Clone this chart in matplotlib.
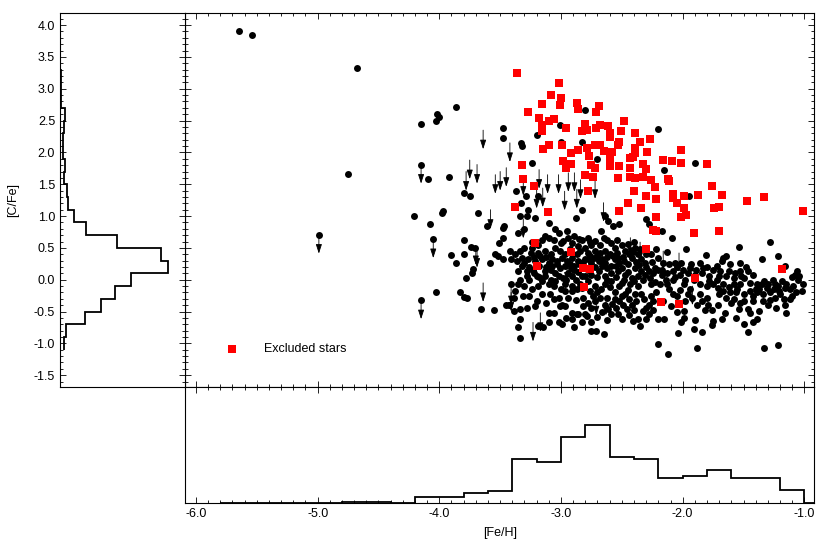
import matplotlib.pyplot as plt
import numpy as np
from matplotlib.ticker import MultipleLocator, FormatStrFormatter

plt.rcParams['font.family'] = ['Liberation Sans', 'DejaVu Sans']
plt.rcParams['font.size'] = 9

# detections [Fe/H], [C/Fe]
det = [
    (-5.65, 3.90), (-5.54, 3.85), (-4.68, 3.32), (-4.75, 1.66), (-4.99, 0.71),
    (-3.86, 2.72), (-4.02, 2.60), (-4.00, 2.56), (-4.03, 2.50), (-4.15, 2.45),
    (-3.48, 2.38), (-3.48, 2.23), (-4.15, 1.81), (-4.09, 1.58), (-3.92, 1.61),
    (-3.80, 1.36), (-3.75, 1.32), (-4.21, 1.00), (-3.98, 1.05), (-3.97, 1.08),
    (-3.68, 1.05), (-4.08, 0.87), (-3.61, 0.84), (-3.48, 0.82), (-3.47, 0.85),
    (-4.05, 0.64), (-3.80, 0.63), (-3.48, 0.65), (-3.51, 0.57), (-3.74, 0.52),
    (-3.71, 0.50), (-3.90, 0.39), (-3.80, 0.41), (-3.54, 0.41), (-3.52, 0.37),
    (-3.48, 0.33), (-3.86, 0.27), (-3.58, 0.27), (-3.72, 0.17), (-3.73, 0.10),
    (-3.78, 0.02), (-4.03, -0.19), (-3.83, -0.20), (-3.80, -0.27), (-3.77, -0.28),
    (-4.15, -0.32), (-3.66, -0.46), (-3.55, -0.48), (-3.45, -0.39),
    (-2.80, 2.67), (-3.01, 2.43), (-3.20, 2.28), (-3.00, 2.17), (-2.83, 2.17),
    (-2.20, 2.37), (-2.70, 1.90), (-2.15, 1.72), (-1.90, 1.83), (-3.33, 2.15),
    (-3.32, 2.10), (-3.24, 1.83), (-3.37, 1.39), (-3.29, 1.31), (-3.19, 1.31),
    (-3.33, 1.20), (-1.95, 1.31),
    (-3.27, 1.10), (-3.34, 1.00), (-3.28, 1.00), (-3.21, 0.97), (-3.10, 0.89),
    (-3.05, 0.79), (-3.35, 0.74), (-2.88, 0.97), (-2.83, 1.10), (-2.64, 1.00),
    (-2.61, 0.93), (-2.57, 0.84), (-2.52, 0.87), (-2.30, 0.96), (-2.28, 0.87),
    (-3.30, 0.79), (-3.13, 0.68), (-3.19, 0.55), (-3.10, 0.66), (-3.02, 0.74),
    (-2.95, 0.76), (-2.94, 0.66), (-2.98, 0.61), (-2.89, 0.68), (-2.83, 0.63),
    (-2.78, 0.66), (-2.72, 0.61), (-2.67, 0.76), (-2.65, 0.66), (-2.68, 0.55),
    (-2.75, 0.55), (-2.80, 0.50), (-2.86, 0.53), (-2.91, 0.58), (-2.87, 0.40),
    (-2.78, 0.42), (-2.72, 0.45), (-2.64, 0.45), (-2.59, 0.58), (-2.56, 0.50),
    (-2.50, 0.55), (-2.47, 0.45), (-2.39, 0.50), (-2.37, 0.40), (-2.42, 0.34),
    (-2.34, 0.32), (-2.26, 0.40), (-2.20, 0.34), (-2.23, 0.19), (-2.17, 0.08),
    (-2.28, 0.14), (-2.34, 0.14), (-2.39, 0.19), (-2.45, 0.24), (-2.52, 0.27),
    (-2.56, 0.32), (-2.59, 0.21), (-2.64, 0.27), (-2.69, 0.29), (-2.75, 0.27),
    (-2.80, 0.32), (-2.86, 0.29), (-2.91, 0.34), (-2.97, 0.40), (-3.01, 0.45),
    (-3.05, 0.50), (-3.08, 0.40), (-3.13, 0.45), (-3.19, 0.42), (-3.24, 0.50),
    (-3.30, 0.50), (-3.34, 0.45), (-3.38, 0.40), (-3.41, 0.32), (-3.42, 0.45),
    (-3.32, 0.34), (-3.27, 0.32), (-3.21, 0.29), (-3.16, 0.32), (-3.10, 0.27),
    (-3.32, 0.21), (-3.35, 0.14), (-3.28, 0.14), (-3.23, 0.16), (-3.13, 0.14),
    (-3.08, 0.16), (-3.01, 0.19), (-3.05, 0.11), (-2.94, 0.11), (-2.89, 0.16),
    (-2.83, 0.06), (-2.75, 0.08), (-2.69, 0.14), (-2.64, 0.06), (-2.59, 0.11),
    (-2.53, 0.14), (-2.47, 0.08), (-2.42, 0.03), (-2.37, 0.06), (-2.43, -0.07),
    (-2.50, -0.05), (-2.59, -0.02), (-2.64, -0.07), (-2.67, -0.15), (-2.72, -0.10),
    (-2.78, -0.02), (-2.91, 0.06), (-2.98, 0.03), (-3.05, -0.02), (-3.10, -0.07),
    (-3.16, -0.02), (-3.20, 0.06), (-3.26, 0.00), (-3.34, 0.00), (-3.35, -0.07),
    (-3.41, -0.07), (-3.19, -0.10), (-2.97, -0.07), (-2.91, -0.10), (-2.97, -0.18),
    (-2.91, -0.18), (-2.87, -0.15), (-2.83, -0.13), (-2.76, -0.18), (-2.74, -0.26),
    (-2.68, -0.28), (-2.72, -0.33), (-2.64, -0.39), (-2.61, -0.46), (-2.59, -0.54),
    (-2.53, -0.54), (-2.49, -0.39), (-2.42, -0.39), (-2.39, -0.23), (-2.34, -0.23),
    (-2.26, -0.07), (-2.19, -0.07), (-2.37, -0.10), (-2.28, -0.39), (-2.28, -0.54),
    (-2.20, -0.62), (-2.33, -0.49), (-2.41, -0.65), (-2.37, -0.62), (-2.35, -0.73),
    (-2.20, -1.01), (-2.47, -0.23), (-2.56, -0.20), (-2.52, -0.33), (-2.75, -0.44),
    (-2.80, -0.54), (-2.86, -0.54), (-2.91, -0.52), (-2.97, -0.41), (-2.99, -0.39),
    (-3.02, -0.28), (-3.09, -0.23), (-3.16, -0.23), (-3.20, -0.33), (-3.26, -0.26),
    (-3.31, -0.26), (-3.39, -0.28), (-3.38, -0.18), (-3.43, -0.39), (-3.39, -0.49),
    (-3.34, -0.46), (-3.21, -0.41), (-3.10, -0.52), (-3.06, -0.52), (-3.01, -0.41),
    (-2.91, -0.62), (-2.87, -0.54), (-2.82, -0.41), (-2.79, -0.57), (-2.75, -0.67),
    (-3.02, -0.67), (-2.99, -0.70), (-3.10, -0.67), (-3.19, -0.73), (-3.15, -0.75),
    (-3.34, -0.62), (-3.35, -0.75), (-3.34, -0.91), (-2.89, -0.75), (-2.75, -0.80),
    (-2.71, -0.80), (-2.65, -0.86),
    (-3.25, 0.42), (-3.22, 0.36), (-3.17, 0.38), (-3.12, 0.35), (-3.07, 0.33),
    (-3.03, 0.30), (-2.99, 0.34), (-2.95, 0.30), (-2.93, 0.24), (-2.89, 0.22),
    (-2.85, 0.24), (-2.82, 0.28), (-2.78, 0.33), (-2.76, 0.38), (-2.73, 0.34),
    (-2.70, 0.38), (-2.68, 0.42), (-2.66, 0.33), (-2.62, 0.36), (-2.60, 0.40),
    (-2.57, 0.38), (-2.54, 0.42), (-2.53, 0.34), (-2.49, 0.36), (-2.48, 0.30),
    (-2.44, 0.40), (-2.41, 0.44), (-2.38, 0.28), (-2.36, 0.23), (-2.31, 0.26),
    (-2.30, 0.20), (-2.25, 0.28), (-2.24, 0.10), (-2.20, 0.16), (-2.31, 0.08),
    (-2.45, 0.12), (-2.50, 0.18), (-2.55, 0.22), (-2.62, 0.18), (-2.66, 0.22),
    (-2.72, 0.20), (-2.78, 0.15), (-2.83, 0.20), (-2.86, 0.12), (-2.92, 0.18),
    (-2.97, 0.22), (-3.03, 0.24), (-3.07, 0.22), (-3.12, 0.20), (-3.18, 0.22),
    (-3.22, 0.10), (-3.26, 0.20), (-3.30, 0.26), (-3.36, 0.30), (-3.28, 0.06),
    (-3.18, 0.04), (-3.13, 0.06), (-3.08, 0.00), (-3.02, 0.06), (-2.96, 0.00),
    (-2.88, 0.00), (-2.80, 0.06), (-2.70, 0.04), (-2.62, 0.00), (-2.55, 0.04),
    (-2.48, 0.00), (-2.40, -0.02), (-2.33, 0.00), (-2.27, 0.02), (-2.23, -0.04),
    (-3.00, 0.58), (-3.06, 0.62), (-3.16, 0.62), (-3.24, 0.60), (-2.85, 0.64),
    (-2.76, 0.60), (-2.62, 0.62), (-2.54, 0.62), (-2.45, 0.56), (-2.40, 0.60),
    (-2.84, 0.45), (-2.93, 0.48), (-3.06, -0.10), (-3.00, -0.14), (-2.84, -0.06),
    (-2.70, -0.20), (-2.60, -0.12), (-2.52, -0.10), (-2.45, -0.16), (-3.24, -0.14),
    (-3.30, -0.10), (-2.35, 0.48), (-2.30, 0.40), (-2.22, 0.48),
    (-2.62, -0.28), (-2.56, -0.30), (-2.50, -0.26), (-2.44, -0.30), (-2.38, -0.34),
    (-2.32, -0.30), (-2.26, -0.26), (-2.22, -0.20), (-2.24, -0.34), (-2.30, -0.44),
    (-2.40, -0.48), (-2.46, -0.46), (-2.55, -0.44), (-2.58, -0.38), (-2.66, -0.50),
    (-2.70, -0.58), (-2.62, -0.64), (-2.50, -0.62), (-2.44, -0.56), (-2.30, -0.62),
    (-2.24, -0.48), (-2.94, -0.28), (-2.88, -0.32), (-2.82, -0.28), (-2.78, -0.36),
    (-3.12, -0.36), (-3.06, -0.30), (-3.28, -0.44), (-2.96, -0.60), (-2.83, -0.66),
    (-2.17, 0.77), (-2.09, 0.65), (-1.97, 0.49), (-2.13, 0.44), (-1.54, 0.52),
    (-1.28, 0.60), (-1.22, 0.37), (-1.81, 0.39), (-1.67, 0.34), (-1.64, 0.37),
    (-1.53, 0.27), (-1.61, 0.24), (-1.68, 0.29), (-1.35, 0.32), (-1.16, 0.21),
    (-1.06, 0.14), (-1.04, 0.06), (-1.01, -0.07), (-1.02, -0.18), (-1.09, -0.10),
    (-1.10, -0.26), (-2.16, 0.27), (-2.11, 0.24), (-2.06, 0.27), (-2.01, 0.27),
    (-1.93, 0.24), (-1.86, 0.27), (-1.83, 0.19), (-1.89, 0.16), (-1.94, 0.19),
    (-2.17, 0.16), (-2.13, 0.11), (-2.08, 0.14), (-2.02, 0.08), (-2.08, 0.00),
    (-2.13, -0.07), (-2.11, -0.15), (-2.08, -0.23), (-2.05, -0.26), (-1.98, 0.00),
    (-1.99, -0.07), (-1.94, -0.15), (-1.86, -0.23), (-1.75, 0.16), (-1.69, 0.14),
    (-1.78, -0.02), (-1.75, -0.07), (-1.71, -0.13), (-1.67, -0.18), (-1.61, -0.20),
    (-1.56, -0.20), (-1.50, -0.23), (-1.64, 0.06), (-1.57, 0.11), (-1.53, 0.14),
    (-1.52, 0.06), (-1.58, -0.07), (-1.53, -0.07), (-1.46, 0.14), (-1.45, -0.05),
    (-1.39, -0.07), (-1.35, -0.07), (-1.37, -0.15), (-1.31, -0.13), (-1.28, -0.20),
    (-1.34, -0.23), (-1.39, -0.20), (-1.24, -0.07), (-1.21, -0.18), (-1.16, -0.13),
    (-1.17, -0.31), (-1.16, -0.39), (-1.15, -0.52), (-1.23, -0.44), (-1.37, -0.49),
    (-1.39, -0.62), (-1.45, -0.52), (-1.46, -0.46), (-1.54, -0.46), (-1.53, -0.36),
    (-1.60, -0.36), (-1.71, -0.39), (-1.76, -0.48), (-1.82, -0.48), (-1.79, -0.39),
    (-1.65, -0.52), (-1.56, -0.60), (-1.68, -0.62), (-1.75, -0.65), (-1.76, -0.71),
    (-1.84, -0.82), (-1.91, -0.78), (-1.90, -0.64), (-1.99, -0.49), (-1.99, -0.60),
    (-2.01, -0.67), (-2.04, -0.83), (-2.15, -0.62), (-1.84, -0.33), (-2.16, -0.33),
    (-1.50, -0.70), (-1.46, -0.82), (-1.42, -0.67), (-1.88, -1.08), (-2.12, -1.17),
    (-1.33, -1.08), (-1.22, -1.03), (-1.78, 0.06), (-1.72, 0.00), (-1.67, -0.07),
    (-1.86, -0.07), (-1.91, 0.00), (-1.80, -0.10), (-1.30, -0.07), (-1.25, -0.15),
    (-1.20, -0.23), (-1.15, -0.07), (-1.08, 0.08), (-1.05, 0.00), (-1.45, -0.18),
    (-1.42, -0.33),
    (-2.05, 0.20), (-2.00, 0.15), (-1.96, 0.10), (-1.90, 0.08), (-1.84, 0.10),
    (-1.80, 0.20), (-1.72, 0.22), (-1.70, 0.06), (-1.62, 0.14), (-1.58, 0.02),
    (-1.50, 0.02), (-1.48, 0.20), (-1.42, 0.08), (-1.40, -0.14), (-1.33, -0.02),
    (-1.26, 0.00), (-1.22, -0.10), (-1.18, -0.02), (-1.12, -0.14), (-1.10, 0.04),
    (-1.55, -0.14), (-1.62, -0.12), (-1.70, -0.22), (-1.80, -0.28), (-1.92, -0.28),
    (-2.02, -0.16), (-2.06, 0.04), (-2.14, 0.00), (-1.98, -0.34), (-1.50, -0.34),
    (-1.28, -0.32), (-1.07, -0.20), (-1.30, -0.40),
    (-1.96, -0.22), (-1.88, -0.40), (-1.64, -0.28), (-1.58, -0.30), (-1.42, -0.26),
    (-1.34, -0.34), (-1.24, -0.28), (-1.12, -0.30), (-2.10, -0.42), (-2.05, -0.50),
]

# upper limits on [C/Fe]
lim = [
    (-4.99, 0.71), (-4.15, 1.81), (-4.05, 0.64), (-4.15, -0.32), (-3.64, 2.35),
    (-3.75, 1.88), (-3.69, 1.81), (-3.78, 1.70), (-3.54, 1.65), (-3.50, 1.70),
    (-3.45, 1.76), (-3.58, 1.10), (-3.69, 0.49), (-3.64, -0.05), (-3.42, 2.15),
    (-3.31, 1.62), (-3.18, 1.73), (-3.11, 1.65), (-3.02, 1.65), (-2.94, 1.68),
    (-2.89, 1.68), (-2.84, 1.57), (-2.72, 1.57), (-2.97, 1.39), (-2.87, 1.42),
    (-3.15, 1.44), (-3.20, 1.42), (-3.31, 0.95), (-3.70, 0.53), (-2.65, 1.21),
    (-2.43, 0.66), (-2.35, 0.59), (-2.16, 0.45), (-2.03, 0.42), (-3.17, -0.52),
    (-3.23, -0.67), (-3.41, -0.10), (-2.95, 0.27), (-2.71, -0.26), (-2.63, -0.26),
    (-1.92, -0.10), (-3.41, -0.20),
]

# excluded stars
exc = [
    (-3.36, 3.25), (-3.02, 3.09), (-3.08, 2.90), (-3.00, 2.85), (-3.01, 2.75),
    (-3.16, 2.76), (-3.27, 2.64), (-2.87, 2.77), (-2.86, 2.68), (-2.69, 2.73),
    (-2.71, 2.63), (-3.18, 2.54), (-3.10, 2.49), (-3.06, 2.52), (-3.16, 2.43),
    (-3.16, 2.33), (-2.96, 2.38), (-2.80, 2.44), (-2.83, 2.34), (-2.79, 2.35),
    (-2.71, 2.38), (-2.68, 2.43), (-2.61, 2.42), (-2.60, 2.31), (-2.60, 2.25),
    (-2.51, 2.33), (-2.48, 2.49), (-2.39, 2.30), (-2.27, 2.21), (-2.35, 2.16),
    (-2.52, 2.17), (-2.53, 2.11), (-2.68, 2.12), (-2.72, 2.11), (-2.79, 2.07),
    (-2.86, 2.04), (-2.92, 1.99), (-2.99, 2.11), (-3.10, 2.11), (-3.15, 2.05),
    (-2.77, 1.94), (-2.65, 2.02), (-2.58, 2.01), (-2.39, 2.07), (-2.29, 2.01),
    (-2.39, 1.99), (-2.41, 1.93), (-2.43, 1.91), (-2.60, 1.89), (-2.98, 1.86),
    (-2.92, 1.82), (-2.96, 1.76), (-2.75, 1.81), (-2.72, 1.76), (-2.60, 1.79),
    (-2.52, 1.79), (-2.43, 1.75), (-2.33, 1.82), (-2.30, 1.74), (-2.16, 1.88),
    (-2.09, 1.86), (-2.01, 1.83), (-2.01, 2.04), (-1.80, 1.82), (-3.32, 1.80),
    (-3.31, 1.58), (-2.80, 1.64), (-2.74, 1.61), (-2.53, 1.60), (-2.43, 1.61),
    (-2.39, 1.60), (-2.33, 1.62), (-2.26, 1.57), (-2.23, 1.46), (-2.12, 1.59),
    (-2.11, 1.55), (-3.22, 1.48), (-2.78, 1.39), (-2.40, 1.40), (-2.30, 1.31),
    (-2.22, 1.27), (-2.08, 1.35), (-2.08, 1.29), (-1.99, 1.32), (-2.05, 1.21),
    (-1.99, 1.13), (-1.87, 1.33), (-1.76, 1.47), (-1.68, 1.33), (-1.74, 1.13),
    (-1.70, 1.15), (-1.47, 1.23), (-1.33, 1.30), (-1.01, 1.08), (-1.97, 1.01),
    (-2.01, 0.98), (-2.22, 0.98), (-2.45, 1.21), (-2.34, 1.12), (-2.52, 1.08),
    (-3.38, 1.15), (-3.11, 1.06), (-2.24, 0.78), (-2.22, 0.76), (-1.91, 0.74),
    (-1.70, 0.76), (-3.21, 0.58), (-2.92, 0.43), (-2.30, 0.49), (-3.20, 0.21),
    (-2.82, 0.19), (-2.76, 0.17), (-2.81, -0.11), (-1.90, 0.02), (-1.18, 0.17),
    (-2.18, -0.35), (-2.03, -0.38),
]

# histogram of [C/Fe], 0.2 dex bins
cfe_edges = np.arange(-1.1, 3.95, 0.2)
cfe_counts = [12, 17, 75, 123, 164, 213, 325, 303, 170, 77, 42, 23, 20,
              12, 15, 10, 10, 12, 15, 3, 3, 3, 1, 1, 1]

# histogram of [Fe/H], 0.2 dex bins
feh_edges = np.arange(-5.8, -0.75, 0.2)
feh_counts = [2, 2, 2, 2, 2, 4, 4, 2, 20, 18, 30, 37, 132, 125, 199, 235,
              140, 132, 77, 82, 99, 77, 75, 39, 0]

feh_det, cfe_det = np.array(det).T
feh_lim, cfe_lim = np.array(lim).T
feh_exc, cfe_exc = np.array(exc).T

xlo, xhi = -6.093, -0.918
ylo, yhi = -1.69, 4.19

fig = plt.figure(figsize=(8.3, 5.54), dpi=100)
ax = fig.add_axes([0.2225, 0.3009, 0.7586, 0.6756])
axl = fig.add_axes([0.0723, 0.3009, 0.1502, 0.6756])
axb = fig.add_axes([0.2225, 0.0915, 0.7586, 0.2094])

# main panel
ax.scatter(feh_det, cfe_det, s=25, c='black', linewidths=0, zorder=2)
for x, y in zip(feh_lim, cfe_lim):
    ax.annotate('', xy=(x, y - 0.3), xytext=(x, y),
                arrowprops=dict(arrowstyle='-|>,head_length=0.4,head_width=0.13',
                                color='black', lw=0.6, mutation_scale=14,
                                shrinkA=0, shrinkB=0), zorder=3)
ax.scatter(feh_exc, cfe_exc, s=34, c='red', marker='s', linewidths=0, zorder=4,
           label='Excluded stars')
ax.legend(loc='center left', bbox_to_anchor=(0.0652, 0.102), frameon=False,
          handlelength=1, handletextpad=2.1, borderpad=0, borderaxespad=0,
          fontsize=9)
ax.set_xlim(xlo, xhi)
ax.set_ylim(ylo, yhi)
ax.xaxis.set_major_locator(MultipleLocator(1.0))
ax.xaxis.set_minor_locator(MultipleLocator(0.1))
ax.yaxis.set_major_locator(MultipleLocator(0.5))
ax.yaxis.set_minor_locator(MultipleLocator(0.1))
ax.tick_params(which='both', direction='in', top=True, right=True,
               labelbottom=False, labelleft=False)

# left histogram
axl.stairs(cfe_counts, cfe_edges, orientation='horizontal', baseline=None,
           color='black', lw=1.3)
axl.set_ylim(ylo, yhi)
axl.set_xlim(0, 375)
axl.yaxis.set_major_locator(MultipleLocator(0.5))
axl.yaxis.set_minor_locator(MultipleLocator(0.1))
axl.yaxis.set_major_formatter(FormatStrFormatter('%.1f'))
axl.tick_params(which='both', direction='in', right=True)
axl.tick_params(axis='x', which='both', bottom=False, labelbottom=False)

# bottom histogram
axb.stairs(feh_counts, feh_edges, baseline=None, color='black', lw=1.3)
axb.set_xlim(xlo, xhi)
axb.set_ylim(0, 348)
axb.xaxis.set_major_locator(MultipleLocator(1.0))
axb.xaxis.set_minor_locator(MultipleLocator(0.1))
axb.xaxis.set_major_formatter(FormatStrFormatter('%.1f'))
axb.tick_params(which='both', direction='in', top=True)
axb.tick_params(axis='y', which='both', left=False, labelleft=False)

for a in (ax, axl, axb):
    a.tick_params(which='major', length=4.3, width=0.6)
    a.tick_params(which='minor', length=2.2, width=0.6)
    for sp in a.spines.values():
        sp.set_linewidth(0.8)

fig.text(0.0157, 0.639, '[C/Fe]', rotation=90, ha='center', va='center', fontsize=9)
fig.text(0.602, 0.038, '[Fe/H]', ha='center', va='center', fontsize=9)

fig.savefig('out.png', dpi=100)
